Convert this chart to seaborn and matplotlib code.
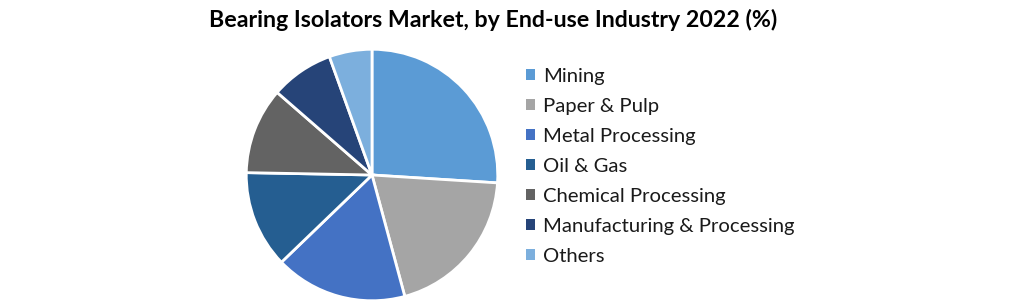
import matplotlib
matplotlib.use("Agg")
import matplotlib.pyplot as plt
import seaborn as sns

categories = ["Mining", "Paper & Pulp", "Metal Processing", "Oil & Gas",
              "Chemical Processing", "Manufacturing & Processing", "Others"]
shares = [26.0, 19.8, 17.0, 12.5, 11.1, 8.1, 5.5]
colors = ["#5B9BD5", "#A5A5A5", "#4472C4", "#255E91", "#636363", "#264478", "#7CAFDD"]
title = "Bearing Isolators Market, by End-use Industry 2022 (%)"

sns.set_theme(style="white")
plt.rcParams["font.family"] = ["Lato", "DejaVu Sans"]

fig = plt.figure(figsize=(10.21, 3.04), dpi=100)
ax = fig.add_axes([245/1021, 2/304, 254/1021, 254/304])
wedges, _ = ax.pie(shares, colors=colors, startangle=90, counterclock=False,
                   wedgeprops=dict(edgecolor="white", linewidth=2))
ax.set_xlim(-1.01, 1.01)
ax.set_ylim(-1.01, 1.01)
ax.set_aspect("equal")
ax.axis("off")

fig.text(493/1021, 1 - 20/304, title, ha="center", va="center",
         fontsize=16.7, fontweight="bold", color="black")

leg = fig.legend(wedges, categories, loc="upper left",
                 bbox_to_anchor=(516/1021, 1 - 58/304), frameon=False,
                 fontsize=14.6, handlelength=0.45, handleheight=0.45,
                 handletextpad=0.4, labelspacing=0.64, borderpad=0,
                 labelcolor="#1a1a1a")
for h in leg.legend_handles:
    h.set_linewidth(0)

fig.savefig("out.png", dpi=100, facecolor="white")
